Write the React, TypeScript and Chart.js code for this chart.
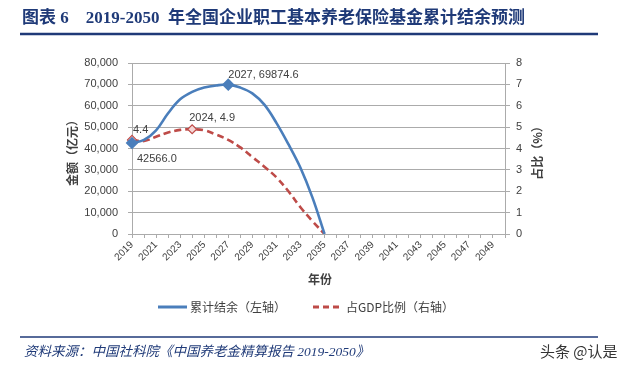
import React, { useEffect, useRef } from "react";
import { Chart, registerables } from "chart.js";

Chart.register(...registerables);

const years = [
  "2019", "2020", "2021", "2022", "2023", "2024", "2025", "2026", "2027", "2028",
  "2029", "2030", "2031", "2032", "2033", "2034", "2035", "2036", "2037", "2038",
  "2039", "2040", "2041", "2042", "2043", "2044", "2045", "2046", "2047", "2048",
  "2049", "2050",
];

const balance: (number | null)[] = [
  42566.0, 44000, 48500, 56500, 63000, 66500, 68500, 69500, 69874.6, 68500,
  65800, 60500, 52000, 42000, 31000, 17000, 0,
  null, null, null, null, null, null, null, null, null, null, null, null, null, null, null,
];

const gdpRatio: (number | null)[] = [
  4.4, 4.35, 4.55, 4.75, 4.87, 4.9, 4.85, 4.65, 4.4, 4.05,
  3.6, 3.15, 2.65, 2.0, 1.25, 0.6, 0,
  null, null, null, null, null, null, null, null, null, null, null, null, null, null, null,
];

const leftTicks = [0, 10000, 20000, 30000, 40000, 50000, 60000, 70000, 80000];
const rightTicks = [0, 1, 2, 3, 4, 5, 6, 7, 8];

const titleText = "图表 6    2019-2050  年全国企业职工基本养老保险基金累计结余预测";
const sourceText = "资料来源：中国社科院《中国养老金精算报告 2019-2050》";
const watermark = "头条 @认是";
const leftAxisTitle = "金额（亿元）";
const rightAxisTitle = "占比（%）";
const xAxisTitle = "年份";
const seriesNames = ["累计结余（左轴）", "占GDP比例（右轴）"];

const BLUE = "#4A7EBB";
const RED = "#BE4B48";
const NAVY = "#1F3A78";
const TEXT = "#404040";
const GRID = "#ababab";
const SANS = "'Liberation Sans', 'Noto Sans CJK SC', sans-serif";
const CJK = "'Noto Sans CJK SC', sans-serif";

const decorPlugin = {
  id: "decor",
  afterDraw(chart: any) {
    const ctx = chart.ctx as CanvasRenderingContext2D;
    ctx.save();
    // Title
    ctx.fillStyle = NAVY;
    ctx.font = `bold 17px 'Liberation Serif', 'Noto Sans CJK SC', serif`;
    ctx.textBaseline = "middle";
    ctx.textAlign = "left";
    ctx.fillText(titleText, 22, 19);
    ctx.strokeStyle = NAVY;
    ctx.lineWidth = 2.5;
    ctx.beginPath();
    ctx.moveTo(20, 34);
    ctx.lineTo(598, 34);
    ctx.stroke();

    // Bottom line + source
    ctx.lineWidth = 1.5;
    ctx.beginPath();
    ctx.moveTo(20, 337);
    ctx.lineTo(598, 337);
    ctx.stroke();
    ctx.font = `italic 13.5px 'Liberation Serif', 'Noto Sans CJK SC', serif`;
    ctx.fillText(sourceText, 24, 352);
    ctx.fillStyle = "#333333";
    ctx.font = `15px ${CJK}`;
    ctx.fillText(watermark, 540, 351);

    // Axis titles
    ctx.fillStyle = TEXT;
    ctx.font = `bold 12px ${CJK}`;
    ctx.textAlign = "center";
    ctx.save();
    ctx.translate(72, 150);
    ctx.rotate(-Math.PI / 2);
    ctx.fillText(leftAxisTitle, 0, 0);
    ctx.restore();
    ctx.save();
    ctx.translate(537, 150);
    ctx.rotate(-Math.PI / 2);
    ctx.fillText(rightAxisTitle, 0, 0);
    ctx.restore();
    ctx.fillText(xAxisTitle, 320, 279);

    // Legend
    ctx.lineWidth = 3;
    ctx.strokeStyle = BLUE;
    ctx.beginPath();
    ctx.moveTo(158, 307);
    ctx.lineTo(187, 307);
    ctx.stroke();
    ctx.strokeStyle = RED;
    ctx.setLineDash([6, 4]);
    ctx.beginPath();
    ctx.moveTo(313, 307);
    ctx.lineTo(343, 307);
    ctx.stroke();
    ctx.setLineDash([]);
    ctx.font = `12px ${CJK}`;
    ctx.textAlign = "left";
    ctx.fillStyle = TEXT;
    ctx.fillText(seriesNames[0], 190, 307);
    ctx.fillText(seriesNames[1], 346, 307);

    // Data labels
    const m0 = chart.getDatasetMeta(0).data;
    const m1 = chart.getDatasetMeta(1).data;
    ctx.font = `11px ${SANS}`;
    ctx.fillStyle = TEXT;
    const p0 = m0[0];
    ctx.fillText(Number(balance[0]).toFixed(1), p0.x + 5, p0.y + 16);
    const peak = m0[8];
    ctx.fillText(`${years[8]}, ${balance[8]}`, peak.x, peak.y - 10);
    const r0 = m1[0];
    ctx.fillText(`${gdpRatio[0]}`, r0.x + 1, r0.y - 10);
    const r5 = m1[5];
    ctx.fillText(`${years[5]}, ${gdpRatio[5]}`, r5.x - 3, r5.y - 11);
    ctx.restore();
  },
};

export default function App() {
  const ref = useRef<HTMLCanvasElement>(null);
  useEffect(() => {
    if (!ref.current) return;
    const chart = new Chart(ref.current, {
      type: "line",
      data: {
        labels: years,
        datasets: [
          {
            label: seriesNames[0],
            data: balance,
            borderColor: BLUE,
            backgroundColor: BLUE,
            borderWidth: 2.6,
            tension: 0.38,
            yAxisID: "y",
            pointStyle: "rectRot",
            pointRadius: balance.map((_, i) => (i === 0 || i === 8 ? 4.5 : 0)),
            pointBackgroundColor: BLUE,
            pointBorderColor: BLUE,
            order: 1,
          },
          {
            label: seriesNames[1],
            data: gdpRatio,
            borderColor: RED,
            backgroundColor: RED,
            borderWidth: 2.6,
            borderDash: [7, 4],
            tension: 0.38,
            yAxisID: "y1",
            pointStyle: "rectRot",
            pointRadius: gdpRatio.map((_, i) => (i === 0 || i === 5 ? 4.5 : 0)),
            pointBackgroundColor: "#f6d6d5",
            pointBorderColor: RED,
            pointBorderWidth: 1.2,
            order: 2,
          },
        ],
      },
      options: {
        responsive: false,
        animation: false,
        layout: { padding: { top: 63, left: 0, right: 0, bottom: 0 } },
        plugins: { legend: { display: false }, tooltip: { enabled: false } },
        scales: {
          x: {
            type: "category",
            offset: false,
            afterFit: (s: any) => { s.height = 133; },
            grid: { drawOnChartArea: false, color: GRID, tickLength: 4, tickColor: GRID },
            border: { color: GRID, width: 1 },
            ticks: {
              autoSkip: false,
              maxRotation: 45,
              minRotation: 45,
              padding: 1,
              color: TEXT,
              font: { size: 10, family: SANS },
              callback: (_v: any, i: number) => (i % 2 === 0 ? years[i] : ""),
            },
          },
          y: {
            position: "left",
            min: 0,
            max: 80000,
            afterFit: (s: any) => { s.width = 132; },
            afterBuildTicks: (s: any) => { s.ticks = leftTicks.map((v) => ({ value: v })); },
            grid: { color: GRID, lineWidth: 1, tickLength: 4, tickColor: GRID },
            border: { color: GRID, width: 1 },
            ticks: {
              padding: 10,
              color: TEXT,
              font: { size: 11, family: SANS },
              callback: (v: any) => Number(v).toLocaleString("en-US"),
            },
          },
          y1: {
            position: "right",
            min: 0,
            max: 8,
            afterFit: (s: any) => { s.width = 119; },
            afterBuildTicks: (s: any) => { s.ticks = rightTicks.map((v) => ({ value: v })); },
            grid: { drawOnChartArea: false, color: GRID, tickLength: 5, tickColor: GRID },
            border: { color: GRID, width: 1 },
            ticks: {
              padding: 6,
              color: TEXT,
              font: { size: 11, family: SANS },
            },
          },
        },
      },
      plugins: [decorPlugin],
    } as any);
    return () => chart.destroy();
  }, []);
  return (
    <div style={{ position: "absolute", left: 0, top: 0, width: 624, height: 367, background: "#fff" }}>
      <canvas ref={ref} width={624} height={367} />
    </div>
  );
}
